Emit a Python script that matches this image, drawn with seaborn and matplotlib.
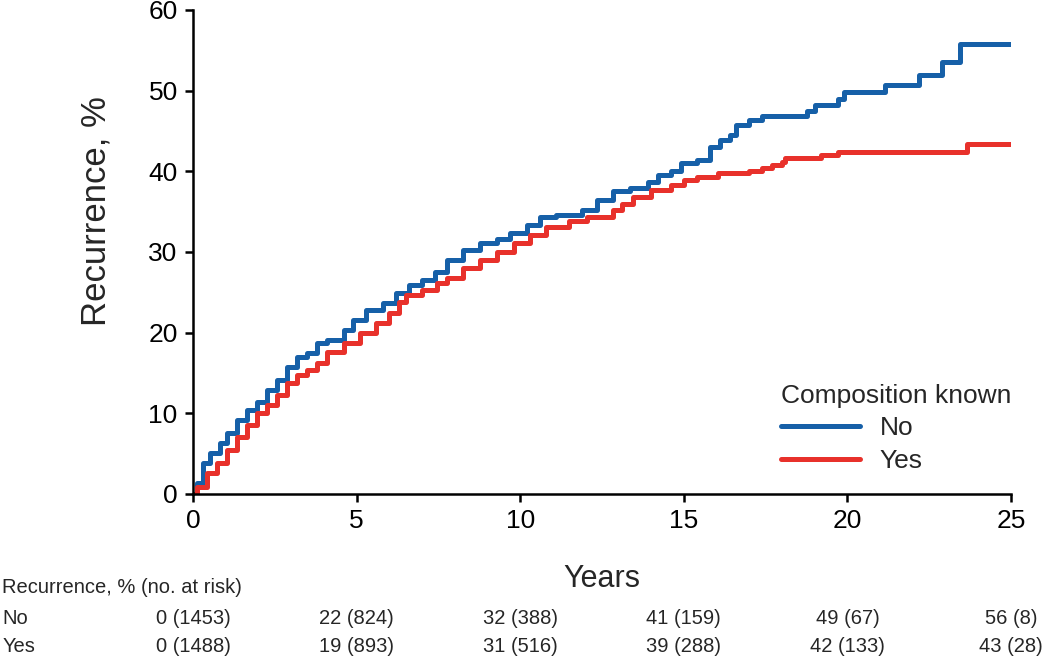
import pandas as pd
import numpy as np
import seaborn as sns
import matplotlib.transforms as mtransforms
from matplotlib import pyplot as plt

# Step curve (years, cumulative recurrence %)
no_years = [0, 0.12, 0.3, 0.52, 0.83, 1.04, 1.34, 1.65, 1.96, 2.26, 2.57, 2.87, 3.18, 3.48, 3.8,
            4.1, 4.6, 4.9, 5.3, 5.8, 6.2, 6.6, 7.0, 7.4, 7.76, 8.25, 8.77, 9.3, 9.7, 10.2,
            10.6, 11.1, 11.9, 12.35, 12.85, 13.35, 13.9, 14.2, 14.6, 14.9, 15.4, 15.8, 16.1, 16.4, 16.6,
            17.0, 17.4, 18.76, 19.0, 19.7, 19.9, 21.15, 22.2, 22.9, 23.45, 25.0]
no_recur = [0, 1.4, 3.8, 5.1, 6.3, 7.6, 9.2, 10.4, 11.4, 12.9, 14.1, 15.7, 17.0, 17.5, 18.7,
            19.1, 20.3, 21.6, 22.8, 23.7, 24.9, 25.9, 26.5, 27.5, 29.0, 30.2, 31.1, 31.6, 32.3, 33.3,
            34.3, 34.6, 35.2, 36.4, 37.5, 37.9, 38.7, 39.5, 40.1, 41.0, 41.4, 43.0, 43.9, 44.5, 45.8,
            46.4, 46.8, 47.5, 48.2, 49.0, 49.8, 50.7, 51.9, 53.5, 55.8, 55.8]

yes_years = [0, 0.12, 0.43, 0.73, 1.04, 1.34, 1.65, 1.96, 2.26, 2.57, 2.87, 3.18, 3.48, 3.8, 4.1,
             4.6, 5.1, 5.6, 6.0, 6.3, 6.5, 7.0, 7.45, 7.76, 8.25, 8.77, 9.3, 9.8, 10.3, 10.8,
             11.5, 12.05, 12.85, 13.1, 13.45, 14.0, 14.6, 15.0, 15.4, 16.05, 17.0, 17.4, 17.7, 18.0, 18.1,
             19.2, 19.7, 23.65, 25.0]
yes_recur = [0, 0.9, 2.6, 3.8, 5.5, 7.1, 8.5, 10.0, 11.0, 12.3, 13.8, 14.7, 15.4, 16.2, 17.6,
             18.7, 19.9, 21.2, 22.4, 23.8, 24.7, 25.3, 26.1, 26.8, 28.0, 29.0, 30.0, 31.1, 32.1, 33.1,
             33.8, 34.3, 35.2, 36.0, 36.8, 37.7, 38.3, 38.9, 39.3, 39.8, 40.1, 40.4, 40.8, 41.1, 41.6,
             42.0, 42.4, 43.4, 43.4]

# Risk table
table_years = [0, 5, 10, 15, 20, 25]
no_table = ["0 (1453)", "22 (824)", "32 (388)", "41 (159)", "49 (67)", "56 (8)"]
yes_table = ["0 (1488)", "19 (893)", "31 (516)", "39 (288)", "42 (133)", "43 (28)"]

df = pd.concat([
    pd.DataFrame({"Years": no_years, "Recurrence": no_recur, "Composition known": "No"}),
    pd.DataFrame({"Years": yes_years, "Recurrence": yes_recur, "Composition known": "Yes"}),
])

sns.set_style("ticks")
plt.rcParams["font.family"] = ["Liberation Sans", "DejaVu Sans"]
narrow = ["Liberation Sans Narrow", "Liberation Sans", "DejaVu Sans"]

fig = plt.figure(figsize=(10.5, 6.62), dpi=100)
ax = fig.add_axes([0.1838, 0.2538, 0.7791, 0.7311])

sns.lineplot(data=df, x="Years", y="Recurrence", hue="Composition known",
             palette={"No": "#1660A8", "Yes": "#E8312B"}, estimator=None,
             drawstyle="steps-post", linewidth=3.6, ax=ax)

ax.set_xlim(0, 25)
ax.set_ylim(0, 60)
ax.set_xticks(table_years)
ax.set_yticks(range(0, 61, 10))
sns.despine(ax=ax)
for sp in ["left", "bottom"]:
    ax.spines[sp].set_linewidth(1.8)
    ax.spines[sp].set_color("black")
ax.tick_params(axis="both", length=6, width=1.8, labelsize=19, colors="black", pad=5)
for lbl in ax.get_xticklabels() + ax.get_yticklabels():
    lbl.set_family(narrow)

ax.set_xlabel("Years", fontsize=22, labelpad=22)
ax.set_ylabel("Recurrence, %", fontsize=25)
ax.yaxis.set_label_coords(-0.099, 0.585)

leg = ax.legend(title="Composition known", loc="lower right", bbox_to_anchor=(1.0, 0.043),
                frameon=False, fontsize=19, title_fontsize=19, handlelength=3.0,
                handletextpad=0.75, labelspacing=0.33, alignment="left",
                borderpad=0, borderaxespad=0)
for h in leg.get_lines():
    h.set_linewidth(3.6)

tr = mtransforms.blended_transform_factory(ax.transData, fig.transFigure)
fig.text(0.002, 0.113, "Recurrence, % (no. at risk)", fontsize=14.5, va="center", ha="left")
fig.text(0.002, 0.066, "No", fontsize=14.5, va="center", ha="left")
fig.text(0.002, 0.024, "Yes", fontsize=14.5, va="center", ha="left")
for yr, a, b in zip(table_years, no_table, yes_table):
    ax.text(yr, 0.066, a, transform=tr, fontsize=14.5, va="center", ha="center", clip_on=False)
    ax.text(yr, 0.024, b, transform=tr, fontsize=14.5, va="center", ha="center", clip_on=False)

fig.savefig("out.png", dpi=100)
